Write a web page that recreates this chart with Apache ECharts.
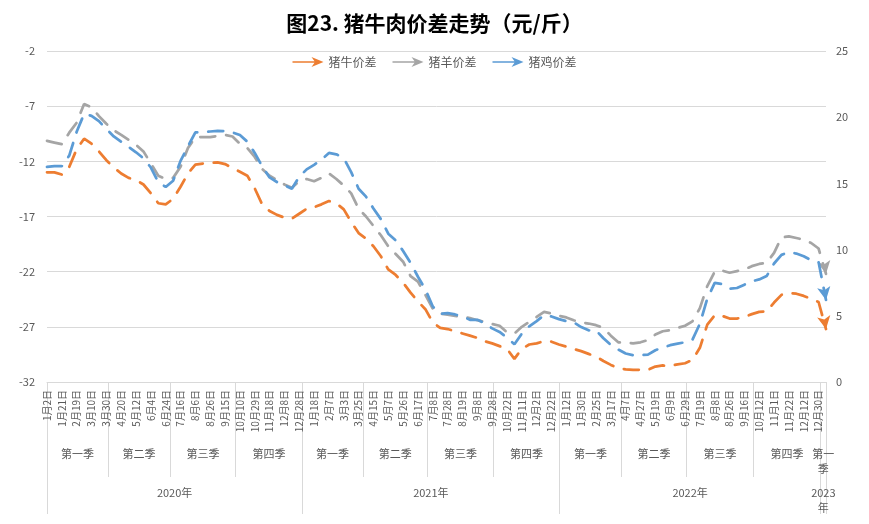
<!DOCTYPE html>
<html>
<head>
<meta charset="utf-8">
<script src="https://cdn.jsdelivr.net/npm/echarts@6/dist/echarts.min.js"></script>
<style>html,body{margin:0;padding:0;background:#fff}#c{width:869px;height:524px}</style>
</head>
<body>
<div id="c"></div>
<script>
// ---------- data ----------
const dates = [
'2020-01-02','2020-01-13','2020-01-21','2020-02-07','2020-02-19','2020-02-28','2020-03-10','2020-03-19','2020-03-30','2020-04-09',
'2020-04-20','2020-04-29','2020-05-12','2020-05-21','2020-06-04','2020-06-15','2020-06-24','2020-07-06','2020-07-16','2020-07-27',
'2020-08-06','2020-08-17','2020-08-26','2020-09-04','2020-09-15','2020-09-24','2020-10-10','2020-10-20','2020-10-29','2020-11-09',
'2020-11-18','2020-11-27','2020-12-08','2020-12-17','2020-12-28','2021-01-07','2021-01-18','2021-01-27','2021-02-07','2021-02-22',
'2021-03-03','2021-03-12','2021-03-25','2021-04-06','2021-04-15','2021-04-26','2021-05-07','2021-05-17','2021-05-26','2021-06-04',
'2021-06-17','2021-06-28','2021-07-08','2021-07-19','2021-07-28','2021-08-06','2021-08-19','2021-08-30','2021-09-08','2021-09-17',
'2021-09-28','2021-10-13','2021-10-22','2021-11-02','2021-11-11','2021-11-22','2021-12-02','2021-12-13','2021-12-22','2021-12-31',
'2022-01-12','2022-01-21','2022-01-30','2022-02-15','2022-02-25','2022-03-08','2022-03-17','2022-03-28','2022-04-07','2022-04-18',
'2022-04-27','2022-05-10','2022-05-19','2022-05-30','2022-06-09','2022-06-20','2022-06-29','2022-07-08','2022-07-19','2022-07-28',
'2022-08-08','2022-08-17','2022-08-26','2022-09-06','2022-09-16','2022-09-28','2022-10-12','2022-10-21','2022-11-01','2022-11-10',
'2022-11-22','2022-12-01','2022-12-12','2022-12-21','2022-12-30','2023-01-06'
];
// 猪牛价差 (left axis)
const pigBeef = [
-13.0,-13.0,-13.2,-12.5,-10.9,-9.95,-10.4,-11.1,-11.9,-12.55,
-13.1,-13.5,-13.7,-14.1,-14.9,-15.8,-15.9,-15.4,-14.3,-13.1,
-12.3,-12.2,-12.15,-12.1,-12.25,-12.6,-12.95,-13.3,-14.45,-15.9,
-16.5,-16.85,-17.1,-17.2,-16.75,-16.3,-16.15,-15.9,-15.6,-15.8,
-16.35,-17.5,-18.5,-19.0,-19.7,-20.6,-21.8,-22.3,-23.0,-23.9,
-24.7,-25.4,-26.6,-27.1,-27.2,-27.4,-27.6,-27.8,-28.0,-28.3,
-28.5,-28.75,-29.0,-29.9,-29.0,-28.6,-28.5,-28.3,-28.35,-28.6,
-28.8,-29.0,-29.2,-29.45,-29.7,-30.1,-30.45,-30.75,-30.85,-30.9,
-30.9,-30.9,-30.6,-30.5,-30.55,-30.4,-30.3,-30.0,-28.9,-26.8,
-25.95,-26.0,-26.25,-26.25,-26.1,-25.85,-25.65,-25.6,-24.8,-24.1,
-23.95,-24.0,-24.2,-24.45,-24.75,-27.2
];
// 猪羊价差 (left axis)
const pigLamb = [
-10.15,-10.3,-10.45,-9.4,-8.5,-6.8,-7.1,-7.9,-8.6,-9.2,
-9.6,-10.05,-10.5,-11.1,-12.2,-13.3,-13.6,-13.5,-12.5,-10.8,
-9.8,-9.8,-9.8,-9.7,-9.6,-9.75,-10.4,-10.8,-11.6,-12.7,
-13.3,-13.7,-14.1,-14.4,-13.8,-13.6,-13.8,-13.5,-13.1,-13.6,
-14.2,-14.9,-16.3,-17.0,-17.85,-18.7,-19.7,-20.4,-21.1,-22.4,
-22.9,-24.1,-25.35,-25.8,-25.9,-26.0,-26.1,-26.2,-26.4,-26.55,
-26.75,-26.9,-27.5,-27.6,-27.0,-26.55,-26.1,-25.65,-25.8,-26.0,
-26.15,-26.4,-26.6,-26.7,-26.85,-27.1,-27.8,-28.4,-28.45,-28.5,
-28.4,-28.2,-27.7,-27.4,-27.3,-27.1,-26.9,-26.5,-25.3,-23.3,
-22.0,-21.9,-22.1,-21.95,-21.8,-21.5,-21.3,-21.2,-20.3,-18.9,
-18.8,-18.95,-19.1,-19.4,-19.9,-22.2
];
// 猪鸡价差 (right axis)
const pigChicken = [
16.25,16.3,16.3,17.1,18.9,20.25,20.1,19.7,19.1,18.55,
18.15,17.75,17.35,16.9,16.2,15.1,14.73,15.2,16.7,17.8,
18.85,18.88,18.92,18.96,18.95,18.85,18.65,18.15,17.3,16.3,
15.45,15.1,14.86,14.6,15.5,16.06,16.4,16.8,17.3,17.2,
16.9,15.85,14.6,14.0,13.1,12.3,11.2,10.7,9.9,9.0,
7.95,7.0,5.7,5.15,5.2,5.1,4.95,4.7,4.7,4.45,
4.05,3.78,3.35,2.85,3.65,4.2,4.6,5.05,4.95,4.75,
4.6,4.5,4.15,3.9,3.9,3.3,2.8,2.45,2.15,2.02,
2.02,2.07,2.4,2.6,2.78,2.9,3.0,3.2,4.4,6.3,
7.48,7.4,7.05,7.1,7.35,7.6,7.75,8.0,8.95,9.6,
9.8,9.7,9.5,9.2,9.06,6.2
];
const seriesNames = ['猪牛价差','猪羊价差','猪鸡价差'];
const seriesColors = ['#ED7D31','#A5A5A5','#5B9BD5'];
const quarterNames = ['第一季','第二季','第三季','第四季'];
const titleText = '图23. 猪牛肉价差走势（元/斤）';
const leftAxis = {min: -32, max: -2, step: 5};
const rightAxis = {min: 0, max: 25, step: 5};

// ---------- derived ----------
const FONT = '"Noto Sans CJK SC","Noto Sans",sans-serif';
const TXT = '#595959';
const LINEC = '#D9D9D9';
const N = dates.length;
function toD(s){const p=s.split('-').map(Number);return new Date(p[0],p[1]-1,p[2]);}
const dObjs = dates.map(toD);
function dateLabel(s){const p=s.split('-').map(Number);return p[1]+'月'+p[2]+'日';}

function buildSegments(keyFn, startFn, nameFn){
  const bounds=[0]; const segs=[]; let segStart=0;
  for(let i=1;i<N;i++){
    if(keyFn(dObjs[i])!==keyFn(dObjs[i-1])){
      const b=startFn(dObjs[i]);
      const frac=(b-dObjs[i-1])/(dObjs[i]-dObjs[i-1]);
      const pos=(i-1)+frac;
      segs.push({from:segStart,to:pos,name:nameFn(dObjs[i-1])});
      bounds.push(pos); segStart=pos;
    }
  }
  segs.push({from:segStart,to:N-1,name:nameFn(dObjs[N-1])});
  bounds.push(N-1);
  return {bounds,segs};
}
const Q = buildSegments(
  d=>d.getFullYear()+'-'+Math.floor(d.getMonth()/3),
  d=>new Date(d.getFullYear(),Math.floor(d.getMonth()/3)*3,1),
  d=>quarterNames[Math.floor(d.getMonth()/3)]);
const Y = buildSegments(
  d=>d.getFullYear(),
  d=>new Date(d.getFullYear(),0,1),
  d=>d.getFullYear()+'年');

function segLabels(segs, splitAt){
  const map={}; const centers=[];
  segs.forEach(s=>{
    const c=(s.from+s.to)/2; centers.push(c);
    let t=s.name;
    if(s.to-s.from<2){t=t.slice(0,splitAt)+'\n'+t.slice(splitAt);}
    map[c.toFixed(4)]=t;
  });
  return {map,centers};
}
const QL = segLabels(Q.segs,2);
const YL = segLabels(Y.segs,4);

function withArrow(arr){
  return arr.map((v,i)=> i===arr.length-1 ? {value:v, symbol:'arrow', symbolSize:[10,13], symbolRotate:190} : v);
}

const chart = echarts.init(document.getElementById('c'), null, {renderer:'canvas'});
const gridCfg = {left:47, right:43, top:51, bottom:142};
chart.setOption({
  animation:false,
  textStyle:{fontFamily:FONT},
  title:{text:titleText,left:'center',top:8,textStyle:{fontSize:21,fontWeight:'bold',color:'#000',fontFamily:FONT}},
  legend:{
    top:51,left:'center',itemWidth:31,itemHeight:10,itemGap:16,
    textStyle:{color:TXT,fontSize:12,fontFamily:FONT},
    data:seriesNames.map((n,i)=>({name:n,icon:'path://M0,4.2 L22,4.2 L19,0 L31,5 L19,10 L22,5.8 L0,5.8 Z',itemStyle:{color:seriesColors[i]}}))
  },
  grid:gridCfg,
  xAxis:[
    {type:'category',data:dates,boundaryGap:false,position:'bottom',
     axisLine:{show:true,lineStyle:{color:LINEC,width:1}},
     axisTick:{show:false},
     axisLabel:{rotate:90,fontSize:10,color:TXT,margin:8,fontFamily:FONT,
       interval:(idx)=> idx%2===0 && idx<N-1,
       formatter:(v)=>dateLabel(v)},
     splitLine:{show:false}},
    {type:'value',min:0,max:N-1,position:'bottom',offset:0,
     axisLine:{show:false},
     axisTick:{show:true,length:95,customValues:Q.bounds,lineStyle:{color:LINEC,width:1}},
     axisLabel:{show:true,customValues:QL.centers,margin:64,fontSize:11,color:TXT,fontFamily:FONT,lineHeight:15,
       formatter:(v)=>QL.map[Number(v).toFixed(4)]||''},
     splitLine:{show:false}},
    {type:'value',min:0,max:N-1,position:'bottom',offset:0,
     axisLine:{show:false},
     axisTick:{show:true,length:132,customValues:Y.bounds,lineStyle:{color:LINEC,width:1}},
     axisLabel:{show:true,customValues:YL.centers,margin:103,fontSize:11,color:TXT,fontFamily:FONT,lineHeight:15,
       formatter:(v)=>YL.map[Number(v).toFixed(4)]||''},
     splitLine:{show:false}}
  ],
  yAxis:[
    {type:'value',min:leftAxis.min,max:leftAxis.max,interval:leftAxis.step,position:'left',
     axisLine:{show:false},axisTick:{show:false},
     axisLabel:{color:TXT,fontSize:11,margin:12,fontFamily:FONT},
     splitLine:{show:true,lineStyle:{color:LINEC,width:1}}},
    {type:'value',min:rightAxis.min,max:rightAxis.max,interval:rightAxis.step,position:'right',
     axisLine:{show:false},axisTick:{show:false},
     axisLabel:{color:TXT,fontSize:11,margin:10,fontFamily:FONT},
     splitLine:{show:false}}
  ],
  series:[pigBeef,pigLamb,pigChicken].map((arr,i)=>({
    name:seriesNames[i],type:'line',xAxisIndex:0,yAxisIndex:i===2?1:0,
    data:withArrow(arr),symbol:'none',showAllSymbol:true,smooth:false,
    itemStyle:{color:seriesColors[i]},
    lineStyle:{color:seriesColors[i],width:2.75,type:[15,11],cap:'round'},
    z:i===0?4:(i===2?3:2)
  }))
});
</script>
</body>
</html>
